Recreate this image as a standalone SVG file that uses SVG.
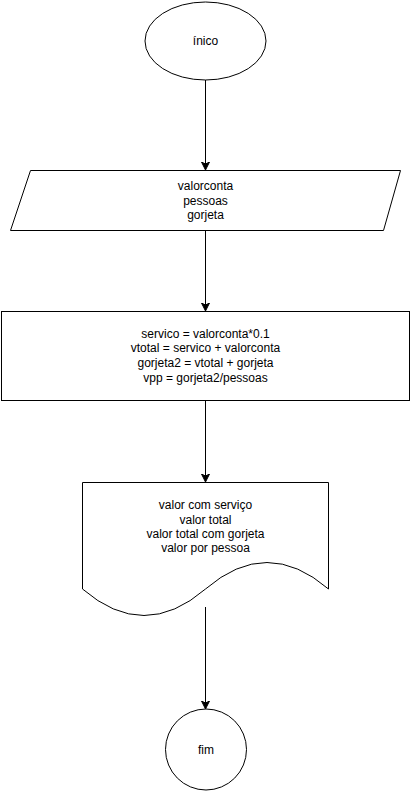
<svg xmlns="http://www.w3.org/2000/svg" width="411" height="791" viewBox="0 0 411 791">
<style>
.s{fill:#fff;stroke:#000;stroke-width:1}
.t{font-family:"Liberation Sans",Arial,sans-serif;font-size:12px;fill:#000;text-anchor:middle}
.c{fill:none;stroke:#000;stroke-width:1}
</style>
<defs>
<marker id="a" markerWidth="10" markerHeight="10" refX="7" refY="4" orient="auto" markerUnits="userSpaceOnUse">
<path d="M0,0 L8,4 L0,8 L2,4 Z" fill="#000" stroke="#000" stroke-width="1"/>
</marker>
</defs>
<g id="connectors">
<line class="c" x1="205.5" y1="80" x2="205.5" y2="169" marker-end="url(#a)"/>
<line class="c" x1="205.5" y1="230" x2="205.5" y2="310" marker-end="url(#a)"/>
<line class="c" x1="205.5" y1="400" x2="205.5" y2="481" marker-end="url(#a)"/>
<line class="c" x1="205.5" y1="607" x2="205.5" y2="708" marker-end="url(#a)"/>
</g>
<g id="inicio">
<ellipse class="s" cx="205.5" cy="41" rx="60.5" ry="39"/>
<text class="t" x="205.5" y="45">ínico</text>
</g>
<g id="entrada">
<polygon class="s" points="30.5,170.5 400.5,170.5 383.5,230.5 10.5,230.5"/>
<text class="t" x="205.5" y="190">valorconta</text>
<text class="t" x="205.5" y="205">pessoas</text>
<text class="t" x="205.5" y="219">gorjeta</text>
</g>
<g id="processo">
<rect class="s" x="1.5" y="311.5" width="408" height="89"/>
<text class="t" x="205.5" y="338">servico = valorconta*0.1</text>
<text class="t" x="205.5" y="352">vtotal = servico + valorconta</text>
<text class="t" x="205.5" y="367">gorjeta2 = vtotal + gorjeta</text>
<text class="t" x="205.5" y="382">vpp = gorjeta2/pessoas</text>
</g>
<g id="saida">
<path class="s" d="M82.5,482.5 H328.5 V589 Q267,536 205.5,589 Q144,642 82.5,589 Z"/>
<text class="t" x="205.5" y="509">valor com serviço</text>
<text class="t" x="205.5" y="524">valor total</text>
<text class="t" x="205.5" y="538">valor total com gorjeta</text>
<text class="t" x="205.5" y="552">valor por pessoa</text>
</g>
<g id="fim">
<circle class="s" cx="206" cy="749.5" r="40.5"/>
<text class="t" x="206" y="754">fim</text>
</g>
</svg>
